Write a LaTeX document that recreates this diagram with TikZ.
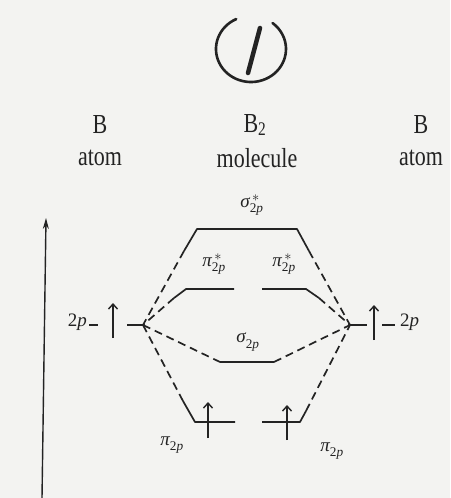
\documentclass[tikz,border=0pt]{standalone}
\usepackage{amsmath}
\usepackage{fontspec}
\setmainfont{Liberation Serif}
\usetikzlibrary{arrows.meta}
\definecolor{bg}{RGB}{243,243,241}
\definecolor{ink}{RGB}{35,35,35}
\newcommand{\tallt}[1]{\scalebox{1}[1.25]{#1}}
\newcommand{\orbsym}[2]{$\text{\itshape #1}_{\text{2\itshape p}}^{#2}$}
\begin{document}
\begin{tikzpicture}[x=1pt,y=-1pt,
  lvl/.style={draw=ink,line width=1.7pt,line join=round},
  dsh/.style={draw=ink,line width=1.7pt,dash pattern=on 8pt off 5pt},
  elec/.style={draw=ink,line width=1.5pt,-{Straight Barb[length=5pt,width=9pt,line width=1.4pt]}},
  hdr/.style={font=\fontsize{22}{24}\selectfont,inner sep=0pt,text=ink},
  orb/.style={font=\fontsize{19}{21}\selectfont,inner sep=0pt,text=ink}]
\fill[bg] (0,0) rectangle (450,498);
\useasboundingbox (0,0) rectangle (450,498);

% circled 1
\draw[ink,line width=2.6pt,line cap=round] (236.2,19.1) arc[start angle=-115,end angle=-412,x radius=35,y radius=33];
\coordinate (oneA) at (260,28);
\coordinate (oneB) at (248,73);
\draw[ink,line width=4.5pt,line cap=round] (oneA) -- (oneB);

% headers
\node[hdr] (bl) at (100,125) {\tallt{B}};
\node[hdr] (al) at (100,158) {\tallt{atom}};
\node[hdr] (bm) at (255,125) {\tallt{B\textsubscript{2}}};
\node[hdr] (mm) at (257,158) {\tallt{molecule}};
\node[hdr] (br) at (421,125) {\tallt{B}};
\node[hdr] (ar) at (421,158) {\tallt{atom}};

% energy axis
\coordinate (eb) at (42,498);
\coordinate (et) at (46,218);
\draw[ink,line width=1.4pt,-{Stealth[length=11pt,width=6pt]}] (eb) -- (et);

% junctions
\coordinate (Jl) at (143,325);
\coordinate (Jr) at (350,325);

% atomic 2p levels
\coordinate (l1) at (89,325);  \coordinate (l2) at (98,325);  \coordinate (l3) at (127,325);
\draw[lvl] (l1) -- (l2);
\draw[lvl] (l3) -- (Jl);
\coordinate (ea1) at (113,338); \coordinate (ea2) at (113,303);
\draw[elec] (ea1) -- (ea2);
\node[orb,anchor=east] (tpl) at (87,322) {2\textit{p}};

\coordinate (r2) at (367,325); \coordinate (r3) at (382,325); \coordinate (r4) at (395,325);
\draw[lvl] (Jr) -- (r2);
\draw[lvl] (r3) -- (r4);
\coordinate (eb1) at (374,340); \coordinate (eb2) at (374,305);
\draw[elec] (eb1) -- (eb2);
\node[orb,anchor=west] (tpr) at (400,322) {2\textit{p}};

% sigma* 2p
\coordinate (sa) at (184,251); \coordinate (sb) at (197,229); \coordinate (sc) at (297,229); \coordinate (sd) at (309,251);
\draw[lvl] (sa) -- (sb) -- (sc) -- (sd);
\draw[dsh] (sa) -- (Jl);
\draw[dsh] (sd) -- (Jr);
\node[orb] (lsa) at (252,205) {\orbsym{σ}{\,*}};

% pi* 2p
\coordinate (pa) at (174,298); \coordinate (pb) at (186,289); \coordinate (pc) at (234,289);
\draw[lvl] (pa) -- (pb) -- (pc);
\draw[dsh] (pa) -- (Jl);
\coordinate (qa) at (262,289); \coordinate (qb) at (306,289); \coordinate (qc) at (319,298);
\draw[lvl] (qa) -- (qb) -- (qc);
\draw[dsh] (qc) -- (Jr);
\node[orb] (lpa) at (214,264) {\orbsym{π}{\,*}};
\node[orb] (lpb) at (284,264) {\orbsym{π}{\,*}};

% sigma 2p
\coordinate (ta) at (220,362); \coordinate (tb) at (274,362);
\draw[dsh] (Jl) -- (ta);
\draw[lvl] (ta) -- (tb);
\draw[dsh] (tb) -- (Jr);
\node[orb] (lsb) at (248,342) {\orbsym{σ}{}};

% pi 2p
\coordinate (ua) at (183,401); \coordinate (ub) at (195,422); \coordinate (uc) at (235,422);
\draw[dsh] (Jl) -- (ua);
\draw[lvl] (ua) -- (ub) -- (uc);
\coordinate (va) at (262,422); \coordinate (vb) at (300,422); \coordinate (vc) at (306,411);
\draw[lvl] (va) -- (vb) -- (vc);
\draw[dsh] (vc) -- (Jr);
\coordinate (ec1) at (208,438); \coordinate (ec2) at (208,402);
\draw[elec] (ec1) -- (ec2);
\coordinate (ed1) at (287,440); \coordinate (ed2) at (287,405);
\draw[elec] (ed1) -- (ed2);
\node[orb] (lpc) at (172,445) {\orbsym{π}{}};
\node[orb] (lpd) at (332,451) {\orbsym{π}{}};
\end{tikzpicture}
\end{document}
